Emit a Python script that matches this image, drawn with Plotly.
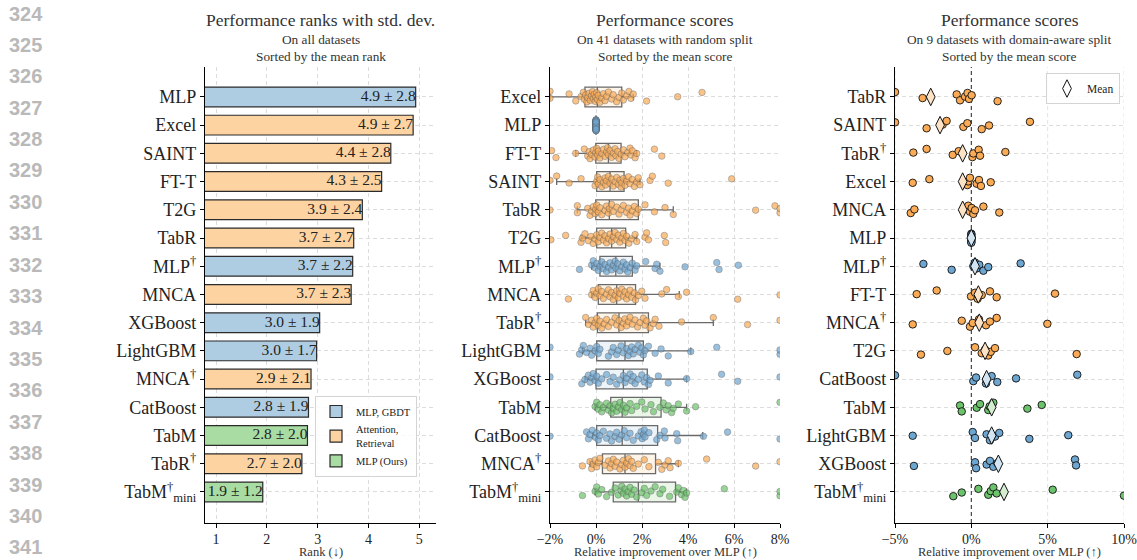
import plotly.graph_objects as go

SERIF = "Liberation Serif"

# ---------------- Panel 1: performance ranks ----------------
rank_methods = ["MLP", "Excel", "SAINT", "FT-T", "T2G", "TabR", "MLP†", "MNCA",
                "XGBoost", "LightGBM", "MNCA†", "CatBoost", "TabM", "TabR†", "TabM†mini"]
rank_mean = [4.93, 4.88, 4.44, 4.26, 3.88, 3.71, 3.69, 3.66, 3.04, 2.98, 2.87, 2.82, 2.80, 2.69, 1.92]
rank_std = [2.8, 2.7, 2.8, 2.5, 2.4, 2.7, 2.2, 2.3, 1.9, 1.7, 2.1, 1.9, 2.0, 2.0, 1.2]
rank_ticks = [1, 2, 3, 4, 5]

# ---------------- Panel 2: 41 datasets, random split ----------------
mid_methods = ["Excel", "MLP", "FT-T", "SAINT", "TabR", "T2G", "MLP†", "MNCA", "TabR†",
               "LightGBM", "XGBoost", "TabM", "CatBoost", "MNCA†", "TabM†mini"]
mid_q1 = [-0.48, 0.0, -0.01, 0.03, -0.01, 0.03, 0.17, 0.10, 0.06, 0.03, 0.00, 0.64, 0.03, 0.28, 0.75]
mid_med = [0.06, 0.0, 0.54, 0.61, 0.58, 0.68, 0.86, 0.90, 1.00, 1.26, 1.19, 1.14, 1.14, 1.26, 1.84]
mid_q3 = [1.12, 0.0, 1.09, 1.22, 1.84, 1.29, 1.58, 1.72, 2.28, 2.06, 2.23, 2.83, 2.68, 2.59, 3.46]
mid_lo = [-2.0, 0.0, -0.88, -1.71, -0.81, -0.65, -0.19, -0.19, -0.45, -0.58, -0.48, -0.04, -0.14, -0.26, -0.04]
mid_hi = [1.62, 0.0, 1.77, 1.91, 3.36, 1.77, 2.78, 3.62, 5.10, 4.12, 3.94, 3.94, 4.64, 3.58, 3.94]

mid_excel = [-2.0, -2.0, -1.17, -0.88, -0.65, -0.55, -0.51, -0.45, -0.40, -0.36, -0.30, -0.25, -0.20,
             -0.15, -0.12, -0.08, -0.04, -0.01, 0.03, 0.06, 0.10, 0.17, 0.25, 0.32, 0.39, 0.46, 0.54,
             0.68, 0.75, 0.90, 1.00, 1.12, 1.19, 1.33, 1.43, 1.52, 1.62, 2.20, 3.55, 4.61]
mid_mlp = [0.0] * 41
mid_ftt = [-1.93, -1.74, -0.88, -0.51, -0.36, -0.30, -0.26, -0.20, -0.12, -0.05, -0.01, 0.03, 0.07,
           0.10, 0.17, 0.25, 0.32, 0.39, 0.46, 0.50, 0.54, 0.61, 0.68, 0.75, 0.83, 0.86, 0.94, 1.00,
           1.09, 1.19, 1.26, 1.38, 1.48, 1.52, 1.58, 1.70, 1.77, 2.54, 2.86]
mid_saint = [-2.0, -1.71, -1.17, -0.65, -0.04, 0.03, 0.07, 0.10, 0.17, 0.25, 0.32, 0.39, 0.42, 0.46,
             0.54, 0.61, 0.68, 0.75, 0.83, 0.90, 0.97, 1.04, 1.09, 1.12, 1.19, 1.26, 1.33, 1.41, 1.48,
             1.58, 1.67, 1.77, 1.84, 1.91, 2.35, 2.45, 3.14, 5.90]
mid_tabr = [-2.0, -0.81, -0.81, -0.36, -0.26, -0.19, -0.12, -0.04, -0.01, 0.03, 0.10, 0.17, 0.25,
            0.39, 0.46, 0.54, 0.58, 0.68, 0.75, 0.90, 1.00, 1.09, 1.19, 1.33, 1.41, 1.48, 1.58, 1.67,
            1.77, 1.84, 2.13, 2.54, 3.00, 3.36, 6.94, 7.78, 8.0, 8.0]
mid_t2g = [-1.96, -1.32, -0.65, -0.59, -0.48, -0.33, -0.22, -0.12, -0.04, 0.03, 0.10, 0.17, 0.25,
           0.32, 0.39, 0.46, 0.54, 0.61, 0.68, 0.75, 0.83, 0.90, 0.97, 1.04, 1.12, 1.19, 1.26, 1.33,
           1.43, 1.55, 1.70, 1.77, 2.13, 2.20, 2.28, 2.97, 3.03]
mid_mlp_d = [-0.72, -0.19, -0.12, -0.04, 0.03, 0.10, 0.17, 0.25, 0.32, 0.39, 0.46, 0.54, 0.61, 0.68,
             0.75, 0.83, 0.86, 0.94, 1.04, 1.12, 1.19, 1.26, 1.33, 1.38, 1.48, 1.58, 1.70, 1.77, 2.16,
             2.57, 2.64, 2.78, 3.87, 5.25, 5.35, 6.19]
mid_mnca = [-1.20, -0.19, -0.12, -0.04, 0.03, 0.10, 0.17, 0.25, 0.32, 0.46, 0.54, 0.61, 0.68, 0.75,
            0.83, 0.90, 0.97, 1.04, 1.12, 1.19, 1.26, 1.33, 1.41, 1.48, 1.55, 1.67, 1.72, 1.84, 1.99,
            2.13, 2.86, 3.07, 3.58, 3.94, 6.16, 8.0]
mid_tabr_d = [-0.45, -0.33, -0.19, -0.12, -0.04, 0.03, 0.10, 0.17, 0.25, 0.36, 0.46, 0.54, 0.68,
              0.83, 0.90, 1.00, 1.09, 1.19, 1.26, 1.33, 1.41, 1.48, 1.58, 1.70, 1.81, 1.91, 2.06,
              2.13, 2.20, 2.35, 2.49, 2.57, 2.74, 3.72, 5.10, 6.59, 8.0]
mid_lightgbm = [-2.0, -0.72, -0.62, -0.55, -0.41, -0.26, -0.19, -0.04, 0.03, 0.10, 0.17, 0.54, 0.68,
                0.75, 0.90, 0.97, 1.09, 1.19, 1.33, 1.41, 1.48, 1.55, 1.62, 1.70, 1.84, 1.91, 1.99,
                2.06, 2.13, 2.28, 2.57, 2.83, 3.14, 4.12, 5.25, 8.0, 8.0]
mid_xgboost = [-2.0, -0.62, -0.48, -0.33, -0.26, -0.19, -0.12, -0.04, 0.03, 0.10, 0.25, 0.46, 0.61,
               0.75, 0.90, 1.04, 1.19, 1.26, 1.33, 1.48, 1.55, 1.62, 1.70, 1.84, 1.99, 2.10, 2.20,
               2.28, 2.35, 2.71, 3.14, 3.94, 5.46, 6.16, 8.0]
mid_tabm = [-0.04, 0.03, 0.10, 0.17, 0.25, 0.32, 0.46, 0.54, 0.61, 0.68, 0.75, 0.83, 0.90, 0.97,
            1.04, 1.12, 1.19, 1.26, 1.33, 1.48, 1.55, 1.77, 1.99, 2.13, 2.39, 2.50, 2.78, 2.93,
            3.05, 3.14, 3.29, 3.36, 3.58, 3.94, 4.33, 8.0]
mid_catboost = [-2.0, -0.41, -0.33, -0.26, -0.16, -0.04, 0.03, 0.10, 0.17, 0.32, 0.46, 0.61, 0.68,
                0.83, 0.90, 1.00, 1.12, 1.23, 1.33, 1.48, 1.62, 1.84, 1.96, 2.01, 2.06, 2.10, 2.13,
                2.30, 2.64, 2.78, 2.97, 3.00, 3.51, 3.55, 4.67, 5.72, 8.0]
mid_mnca_d = [-0.59, -0.26, -0.19, -0.12, -0.04, 0.03, 0.10, 0.17, 0.39, 0.54, 0.61, 0.68, 0.75,
              0.83, 0.90, 1.04, 1.12, 1.19, 1.26, 1.33, 1.41, 1.48, 1.55, 1.62, 1.84, 2.10, 2.30,
              2.71, 2.86, 3.00, 3.14, 3.22, 3.58, 4.81, 6.94, 8.0]
mid_tabm_mini = [-0.59, -0.04, 0.03, 0.10, 0.25, 0.46, 0.68, 0.83, 0.97, 1.09, 1.12, 1.19, 1.26,
                 1.33, 1.40, 1.48, 1.55, 1.66, 1.77, 1.99, 2.10, 2.20, 2.39, 2.57, 2.78, 2.90, 3.20,
                 3.51, 3.58, 3.72, 3.80, 3.87, 3.94, 5.58, 8.0, 8.0]
mid_ticks = [-2, 0, 2, 4, 6, 8]
mid_ticktext = ["−2%", "0%", "2%", "4%", "6%", "8%"]

# ---------------- Panel 3: 9 datasets, domain-aware split ----------------
right_methods = ["TabR", "SAINT", "TabR†", "Excel", "MNCA", "MLP", "MLP†", "FT-T", "MNCA†",
                 "T2G", "CatBoost", "TabM", "LightGBM", "XGBoost", "TabM†mini"]
right_mean = [-2.66, -2.05, -0.57, -0.57, -0.57, 0.0, 0.24, 0.46, 0.52, 0.90, 1.00, 1.33, 1.33, 1.77, 2.14]
r_tabr = [-5.0, -3.19, -0.96, -0.74, -0.41, -0.25, -0.15, 0.02, 1.72]
r_saint = [-5.0, -2.93, -1.88, -1.62, -0.52, -0.26, 0.68, 1.16, 3.84]
r_tabr_d = [-3.80, -2.93, -1.22, -0.83, 0.07, 0.13, 0.48, 0.57, 2.23]
r_excel = [-3.84, -2.75, -0.26, -0.20, -0.09, 0.35, 0.50, 0.63, 1.27]
r_mnca = [-3.97, -3.73, -0.20, -0.09, 0.02, 0.13, 0.24, 0.79, 1.83]
r_mlp = [0.0] * 9
r_mlp_d = [-3.14, -1.29, 0.13, 0.24, 0.35, 0.52, 0.79, 1.11, 3.23]
r_ftt = [-3.58, -2.27, -0.02, 0.24, 0.41, 0.68, 1.22, 1.66, 5.48]
r_mnca_d = [-3.84, -0.63, -0.09, 0.09, 0.50, 0.96, 1.22, 1.66, 4.98]
r_t2g = [-3.30, -1.57, 0.24, 0.68, 0.90, 1.11, 1.27, 1.55, 6.90]
r_catboost = [-5.0, 0.13, 0.31, 0.96, 1.00, 1.33, 1.70, 2.93, 6.94]
r_tabm = [-0.74, -0.63, 0.35, 0.57, 1.11, 1.20, 1.44, 3.67, 4.61]
r_lightgbm = [-3.84, 0.09, 0.24, 1.00, 1.22, 1.55, 1.83, 3.80, 6.35]
r_xgboost = [-3.76, 0.24, 0.31, 1.00, 1.22, 1.44, 1.70, 6.79, 6.86]
r_tabm_mini = [-1.18, -0.63, 0.46, 1.11, 1.27, 1.44, 1.66, 5.33, 10.0]
right_ticks = [-5, 0, 5, 10]
right_ticktext = ["−5%", "0%", "5%", "10%"]

line_numbers = [str(n) for n in range(324, 342)]

groups = ["MLP, GBDT", "Attention,<br>Retrieval", "MLP (Ours)"]
group_of = {"MLP": 0, "MLP†": 0, "XGBoost": 0, "LightGBM": 0, "CatBoost": 0,
            "Excel": 1, "SAINT": 1, "FT-T": 1, "T2G": 1, "TabR": 1, "TabR†": 1, "MNCA": 1, "MNCA†": 1,
            "TabM": 2, "TabM†mini": 2}

# ---------------- styles ----------------
BAR_FILL = ["#aecde3", "#fdd3a1", "#a8dca3"]
PT_FILL = ["#6ea6d2", "#fbab55", "#6cc36b"]
BOX_FILL = ["rgba(174,205,227,0.22)", "rgba(253,211,161,0.25)", "rgba(168,220,163,0.25)"]
DIA_FILL = ["#d3e5f2", "#fde3c6", "#d4edd1"]
GRID_C = "#dcdcdc"
DASH = "4px,3px"


def pretty(name):
    if name == "TabM†mini":
        return "TabM<sup>†</sup><sub>mini</sub>"
    return name.replace("†", "<sup>†</sup>")


def jitter(n, amp, phase=0.31):
    return [(((i * 0.6180339887) + phase) % 1.0 - 0.5) * 2 * amp for i in range(n)]


W, H = 1137, 560
X1 = [205 / W, 436 / W]
X2 = [550 / W, 780 / W]
X3 = [895 / W, 1124 / W]
YD = [1 - 523 / H, 1 - 67 / H]
YRANGE = [15.1, -1.06]

fig = go.Figure()

# ---- panel 1 bars ----
for g, gname in enumerate(groups):
    idx = [i for i, m in enumerate(rank_methods) if group_of[m] == g]
    fig.add_trace(go.Bar(
        x=[rank_mean[i] for i in idx], y=idx, orientation="h", width=0.7,
        marker=dict(color=BAR_FILL[g], line=dict(color="#2b2b2b", width=1.2)),
        name=gname, legend="legend", xaxis="x", yaxis="y", hoverinfo="skip"))
fig.add_trace(go.Scatter(
    x=rank_mean, y=list(range(len(rank_methods))), mode="text",
    text=[f"{m:.1f} ± {s:.1f}" for m, s in zip(rank_mean, rank_std)],
    textposition="middle left", textfont=dict(family=SERIF, size=15.5, color="#222"),
    cliponaxis=False, showlegend=False, xaxis="x", yaxis="y", hoverinfo="skip"))

# ---- panel 2 boxes + strip points ----
mid_points = [mid_excel, mid_mlp, mid_ftt, mid_saint, mid_tabr, mid_t2g, mid_mlp_d, mid_mnca,
              mid_tabr_d, mid_lightgbm, mid_xgboost, mid_tabm, mid_catboost, mid_mnca_d, mid_tabm_mini]
for i, m in enumerate(mid_methods):
    g = group_of[m]
    fig.add_trace(go.Box(
        y=[i], q1=[mid_q1[i]], median=[mid_med[i]], q3=[mid_q3[i]],
        lowerfence=[mid_lo[i]], upperfence=[mid_hi[i]], orientation="h", width=0.7,
        whiskerwidth=0.35, boxpoints=False, fillcolor=BOX_FILL[g],
        line=dict(color="#6a6a6a", width=1.3), showlegend=False,
        xaxis="x2", yaxis="y2", hoverinfo="skip"))
for i, m in enumerate(mid_methods):
    g = group_of[m]
    vals = mid_points[i]
    jit = jitter(len(vals), 0.2, phase=0.13 * i)
    fig.add_trace(go.Scatter(
        x=vals, y=[i + j for j in jit], mode="markers",
        marker=dict(size=6.5, color=PT_FILL[g], opacity=0.7,
                    line=dict(color="#5a5a5a", width=0.6)),
        showlegend=False, xaxis="x2", yaxis="y2", hoverinfo="skip"))

# ---- panel 3 strip + means ----
right_points = [r_tabr, r_saint, r_tabr_d, r_excel, r_mnca, r_mlp, r_mlp_d, r_ftt, r_mnca_d,
                r_t2g, r_catboost, r_tabm, r_lightgbm, r_xgboost, r_tabm_mini]
for i, m in enumerate(right_methods):
    g = group_of[m]
    vals = right_points[i]
    jit = jitter(len(vals), 0.17, phase=0.21 * i)
    fig.add_trace(go.Scatter(
        x=vals, y=[i + j for j in jit], mode="markers",
        marker=dict(size=7.5, color=PT_FILL[g], line=dict(color="#111", width=0.9)),
        showlegend=False, xaxis="x3", yaxis="y3", hoverinfo="skip"))
for i, m in enumerate(right_methods):
    g = group_of[m]
    fig.add_trace(go.Scatter(
        x=[right_mean[i]], y=[i], mode="markers",
        marker=dict(symbol="diamond-tall", size=12.5, color=DIA_FILL[g],
                    line=dict(color="#111", width=1)),
        showlegend=False, xaxis="x3", yaxis="y3", hoverinfo="skip"))
fig.add_trace(go.Scatter(
    x=[None], y=[None], mode="markers", name="Mean",
    marker=dict(symbol="diamond-tall", size=12.5, color="white", line=dict(color="#111", width=1)),
    legend="legend2", xaxis="x3", yaxis="y3"))

# right panel vertical grid lines (drawn as shapes so the zero line can be dark)
for t in right_ticks:
    fig.add_shape(type="line", xref="x3", yref="y3 domain", x0=t, x1=t, y0=0, y1=1,
                  line=dict(color="#333" if t == 0 else GRID_C, width=1.1 if t == 0 else 0.8, dash=DASH),
                  layer="below")

grid = dict(showgrid=True, gridcolor=GRID_C, griddash=DASH, gridwidth=0.8, zeroline=False,
            showline=True, linecolor="black", linewidth=1.2, ticks="outside", ticklen=4,
            tickcolor="black", tickwidth=1, mirror=False, automargin=False)


def xax(domain, rng, vals, text, anchor, showgrid=True):
    d = dict(grid)
    d["showgrid"] = showgrid
    return dict(domain=domain, range=rng, tickvals=vals, ticktext=text, anchor=anchor,
                ticklabeloverflow="allow", ticklabelstandoff=-1,
                tickfont=dict(family=SERIF, size=14, color="#222"), **d)


def yax(labels, anchor):
    return dict(domain=YD, range=YRANGE, tickvals=list(range(len(labels))),
                ticktext=[pretty(m) for m in labels], anchor=anchor,
                tickfont=dict(family=SERIF, size=18, color="#222"), **grid)


fig.update_layout(
    width=W, height=H, margin=dict(l=0, r=0, t=0, b=0, autoexpand=False),
    plot_bgcolor="white", paper_bgcolor="white",
    barmode="overlay", boxmode="overlay",
    font=dict(family=SERIF, color="#222"),
    xaxis=xax(X1, [0.783, 5.33], rank_ticks, [str(t) for t in rank_ticks], "y"),
    yaxis=yax(rank_methods, "x"),
    xaxis2=xax(X2, [-2, 8], mid_ticks, mid_ticktext, "y2"),
    yaxis2=yax(mid_methods, "x2"),
    xaxis3=xax(X3, [-5, 10], right_ticks, right_ticktext, "y3", showgrid=False),
    yaxis3=yax(right_methods, "x3"),
    legend=dict(x=315 / W, y=1 - 396 / H, xanchor="left", yanchor="top",
                bgcolor="rgba(255,255,255,0.85)", bordercolor="#d4d4d4", borderwidth=1,
                font=dict(family=SERIF, size=10.5, color="#222"), tracegroupgap=0,
                itemwidth=30),
    legend2=dict(x=1046 / W, y=1 - 73 / H, xanchor="left", yanchor="top",
                 bgcolor="rgba(255,255,255,0.85)", bordercolor="#d4d4d4", borderwidth=1,
                 font=dict(family=SERIF, size=11.5, color="#222")),
)

# ---- titles ----
titles = [
    ((205 + 436) / 2, "Performance ranks with std. dev.", "On all datasets", "Sorted by the mean rank", "Rank (↓)"),
    ((550 + 780) / 2, "Performance scores", "On 41 datasets with random split", "Sorted by the mean score",
     "Relative improvement over MLP (↑)"),
    ((895 + 1124) / 2, "Performance scores", "On 9 datasets with domain-aware split", "Sorted by the mean score",
     "Relative improvement over MLP (↑)"),
]
for cx, t, s1, s2, xt in titles:
    for text, cy, size in [(t, 20, 17.5), (s1, 39.5, 13.3), (s2, 57, 13.3), (xt, 552, 12.5)]:
        fig.add_annotation(x=cx / W, y=1 - cy / H, xref="paper", yref="paper", text=text,
                           showarrow=False, xanchor="center", yanchor="middle",
                           font=dict(family=SERIF, size=size, color="#333"))

# ---- manuscript line numbers ----
for k, ln in enumerate(line_numbers):
    fig.add_annotation(x=7 / W, y=1 - (13.5 + 31.4 * k) / H, xref="paper", yref="paper",
                       text=f"<b>{ln}</b>", showarrow=False, xanchor="left", yanchor="middle",
                       font=dict(family="Liberation Sans", size=20, color="#b9b9b9"))

fig.write_html("out.html", config={"displayModeBar": False},
               post_script="document.body.style.margin='0px';")
